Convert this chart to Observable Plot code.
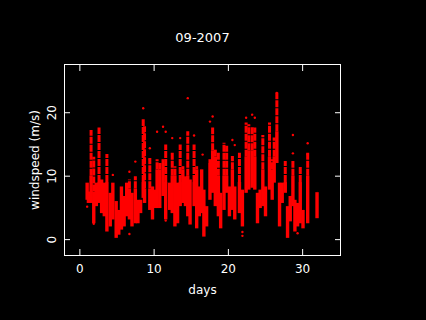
<!DOCTYPE html>
<html><head><meta charset="utf-8">
<style>html,body{margin:0;padding:0;background:#000;overflow:hidden}svg{display:block}</style>
<script src="https://cdn.jsdelivr.net/npm/d3@7"></script>
<script src="https://cdn.jsdelivr.net/npm/@observablehq/plot@0.6"></script>
</head><body><div id="c"></div>
<script>
const title = "09-2007", xLabel = "days", yLabel = "windspeed (m/s)";
const xTicks = [0,10,20,30], yTicks = [0,10,20];
// Vertical extent of the point cloud per time column
const days  = [.98,1.15,1.51,1.87,2.22,2.58,2.93,3.29,3.64,4.09,4.44,4.89,5.24,5.6,5.96,6.31,6.67,7.02,7.47,7.82,8.18,8.53,8.71,9.42,9.78,10.13,10.4,10.76,11.2,11.56,12.09,12.44,12.8,13.16,13.51,13.87,14.22,14.53,14.84,15.38,15.73,16.09,16.4,16.7,17.07,17.52,17.88,18.24,18.65,18.96,19.41,19.77,20.14,20.54,20.86,21.49,21.89,22.39,22.75,23.2,23.56,23.92,24.28,24.64,25,25.54,25.9,26.17,26.53,26.89,27.25,27.66,27.97,28.33,28.69,28.96,29.32,29.68,30.05,30.68,31.94];
const highs = [8.9,7.5,17.2,13,8.9,17.6,9.4,8.9,13.4,7.3,8.9,6,4.6,8.3,6.8,8.9,9.4,7.3,9.9,6.2,6.2,18.9,17.8,12.8,8.3,7.8,12.6,12,12.6,14.9,8.9,13.6,11.5,8.9,14.9,11.5,9.9,17,9.4,14.9,11.5,8.3,11,7.8,5.2,12.6,17.6,14.1,13.6,7.3,15.2,14.7,8.3,13.1,8.3,13.6,7.8,18.4,18.1,17.8,17.6,7.3,7.8,16.4,8.3,18.4,12.6,16,23.1,8.9,8.9,12.3,5.2,6.8,12.3,6.2,5.7,11.5,4.6,13.6,7.4];
const cores = [8.9,7.5,10,7.5,8.9,9,9.4,8.9,9,7.3,8.9,6,4.6,8.3,6.8,8.9,8,7.3,8,6.2,6.2,9,8,8,8.3,7.8,11,11,12,9,8.9,10,10,8.9,9,11,9.9,10,9.4,9,11,8.3,11,7.8,5.2,12,14,13,10,7.3,10,10,8.3,11,8.3,9,7.8,13,14,14,13,7.3,7.8,11,8.3,13,11,13,17,8.9,8.9,9,5.2,6.8,10,6.2,5.7,9,4.6,10,7.4];
const lows  = [6.2,5.7,5.7,2.5,5.2,5.7,4.1,3.6,1.2,2,3.1,.2,.7,1.5,2,3.6,3.1,2,2.5,2.5,4.1,6.5,5.7,4.6,3.1,4.9,4.9,4.9,6.8,3.1,4.6,4.1,2,2.5,5.2,5.7,5.2,3.6,2.3,5.2,1.7,3.6,4.1,.4,2,6.2,7.3,5.2,3.6,1.7,4.6,7.3,3.6,4.6,3.1,4.1,2,7.3,7.8,8.1,7.8,2.5,4.9,5.2,3.6,7.8,6.2,8.9,12,2,5.7,7.3,.2,2.8,5.2,1.2,2,2.5,1.7,2.5,3.3];
// Isolated points above and below the cloud
const strayX = [.98,1.87,7.47,6.67,8.53,9.42,9.42,10.4,11.2,11.56,11.56,12.44,13.51,14.53,15.38,16.53,16.7,17.52,17.88,20.54,20.86,21.89,21.89,22.39,23.2,23.56,26.53,28.69,28.69,30.68,30.68,4.44,6.67,29.32];
const strayY = [5.2,2.5,12.3,.9,20.7,14.4,12.6,17,17.8,17,3,16,16,22.3,16.4,13.4,.9,18.6,19.4,15.7,14.9,1.2,.6,19.2,19.7,19.2,23.1,16.5,13.6,15.2,13.4,10.2,10.7,1];
const columns = days.map((d,i)=>({d,lo:lows[i],core:cores[i],hi:highs[i]}));
const strays = strayX.map((d,i)=>({d,v:strayY[i]}));
const ink = "#fff", red = "#f00";
const font = "'DejaVu Sans'";
const chart = Plot.plot({
  width:426, height:320,
  marginLeft:64, marginRight:86, marginTop:64, marginBottom:65,
  style:{background:"#000",color:ink,fontFamily:font,fontSize:"11px"},
  x:{domain:[-2.07,35.1]},
  y:{domain:[-2.5,27.6]},
  marks:[
    Plot.ruleX(columns,{x:"d",y1:"core",y2:"hi",stroke:red,strokeWidth:3,strokeDasharray:"7 1"}),
    Plot.ruleX(columns,{x:"d",y1:"lo",y2:"core",stroke:red,strokeWidth:3.4}),
    Plot.dot(strays,{x:"d",y:"v",r:1.2,fill:red}),
    Plot.axisX({ticks:xTicks,anchor:"bottom",tickSize:-6,tickPadding:15,label:null,stroke:ink,strokeOpacity:1,fill:ink,fontSize:12}),
    Plot.axisX({ticks:xTicks,anchor:"top",tickSize:-6,tickFormat:()=>"",label:null,stroke:ink,strokeOpacity:1}),
    Plot.axisY({ticks:yTicks,anchor:"left",tickSize:-6,tickPadding:15,tickRotate:-90,label:null,stroke:ink,strokeOpacity:1,fill:ink,fontSize:12}),
    Plot.axisY({ticks:yTicks,anchor:"right",tickSize:-6,tickFormat:()=>"",label:null,stroke:ink,strokeOpacity:1}),
    Plot.frame({stroke:ink}),
    Plot.text([title],{frameAnchor:"top",dy:-27,fill:ink,fontSize:13,lineAnchor:"middle"}),
    Plot.text([xLabel],{frameAnchor:"bottom",dy:35,fill:ink,fontSize:12,lineAnchor:"middle"}),
    Plot.text([yLabel],{frameAnchor:"left",dx:-29,rotate:-90,fill:ink,fontSize:12,textAnchor:"middle",lineAnchor:"middle"})
  ]
});
document.getElementById("c").append(chart);
</script></body></html>
